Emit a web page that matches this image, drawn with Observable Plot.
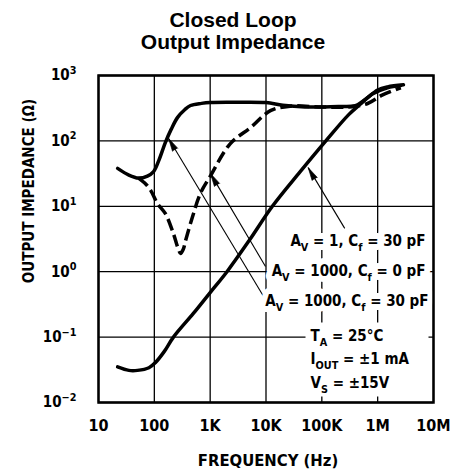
<!DOCTYPE html>
<html><head><meta charset="utf-8">
<script src="https://cdn.jsdelivr.net/npm/d3@7"></script>
<script src="https://cdn.jsdelivr.net/npm/@observablehq/plot@0.6"></script>
<style>body{margin:0;background:#fff}</style>
</head><body><div id="chart"></div>
<script>
// Axis ticks and labels
const xTicks = [10, 100, 1e3, 1e4, 1e5, 1e6, 1e7];
const xTickLabels = ["10", "100", "1K", "10K", "100K", "1M", "10M"];
const yTicks = [0.01, 0.1, 1, 10, 100, 1000];
const yTickLabels = ["10^{−2}", "10^{−1}", "10^{0}", "10^{1}", "10^{2}", "10^{3}"];

// A_V = 1000, C_f = 30 pF (solid)
const solidFreq = [22, 35, 52, 75, 97, 120, 158, 200, 261, 350, 445, 700, 1000, 3000, 10000, 20000, 50000, 200000, 400000, 600000, 1000000, 1500000, 2900000];
const solidZ    = [38, 30, 27, 29, 34, 50, 95, 150, 229, 300, 348, 375, 387, 390, 385, 350, 330, 335, 345, 430, 600, 670, 720];

// A_V = 1000, C_f = 0 pF (dashed)
const dashedFreq = [52, 70, 86, 114, 158, 220, 270, 295, 330, 363, 480, 670, 1020, 2300, 5300, 12000, 27000, 100000, 300000, 660000, 1200000, 2600000];
const dashedZ    = [27, 22, 17.5, 11, 7.7, 3.8, 2.2, 1.9, 2.2, 3.0, 6.8, 15.8, 29.5, 91, 160, 290, 340, 330, 330, 373, 500, 650];

// A_V = 1, C_f = 30 pF (solid, rising)
const av1Freq = [22, 35, 50, 80, 105, 150, 220, 500, 1000, 2000, 5000, 13000, 40000, 118000, 300000, 500000, 800000, 1500000, 2600000];
const av1Z    = [0.035, 0.031, 0.031, 0.034, 0.041, 0.06, 0.1, 0.23, 0.48, 1.0, 3.0, 10, 33, 100, 250, 370, 520, 650, 700];

// Leader lines: tip on curve, tail at label
const leaderTipF  = [180, 1015, 57000];
const leaderTipZ  = [109, 31.6, 39];
const leaderTailF = [9060, 9800, 257000];
const leaderTailZ = [0.418, 1.2, 4.6];

const labels = ["A_{V} = 1, C_{f} = 30 pF", "A_{V} = 1000, C_{f} = 0 pF", "A_{V} = 1000, C_{f} = 30 pF"];
const conditions = ["T_{A} = 25°C", "I_{OUT} = ±1 mA", "V_{S} = ±15V"];

const toRows = (F, Z) => F.map((f, i) => ({f, z: Z[i]}));
const solid = toRows(solidFreq, solidZ);
const dashed = toRows(dashedFreq, dashedZ);
const av1 = toRows(av1Freq, av1Z);
const leaders = leaderTipF.map((f, i) => ({tf: f, tz: leaderTipZ[i], lf: leaderTailF[i], lz: leaderTailZ[i]}));

const narrow = "'Liberation Sans Narrow', 'DejaVu Sans Condensed', sans-serif";
const labelPos = [{dx: -8, dy: 166}, {dx: -8, dy: 196}, {dx: -5, dy: 226}];
const condPos = [261, 284, 308];
const labelOpts = (i) => ({frameAnchor: "top-right", textAnchor: "end", lineAnchor: "middle", dx: labelPos[i].dx, dy: labelPos[i].dy, fontSize: 15});

const chart = Plot.plot({
  width: 457, height: 470,
  marginLeft: 98, marginRight: 24, marginTop: 75, marginBottom: 68,
  x: {type: "log", domain: [10, 1e7], axis: null},
  y: {type: "log", domain: [0.01, 1000], axis: null},
  style: {fontFamily: narrow, fontWeight: "bold", color: "black", background: "white"},
  marks: [
    Plot.ruleX(xTicks, {stroke: "black", strokeWidth: 1.3}),
    Plot.ruleY(yTicks, {stroke: "black", strokeWidth: 1.3}),
    Plot.frame({fill: "white", stroke: null, insetLeft: 207, insetRight: 5, insetTop: 247, insetBottom: 6}),
    Plot.line(dashed, {x: "f", y: "z", stroke: "black", strokeWidth: 3.5, strokeDasharray: "12,5", strokeLinecap: "butt", curve: "catmull-rom"}),
    Plot.line(solid, {x: "f", y: "z", stroke: "black", strokeWidth: 3.5, curve: "catmull-rom"}),
    Plot.line(av1, {x: "f", y: "z", stroke: "black", strokeWidth: 3.5, curve: "catmull-rom"}),
    Plot.link(leaders, {x1: "lf", y1: "lz", x2: "tf", y2: "tz", stroke: "black", strokeWidth: 1.1}),
    Plot.vector(leaders, {x: "tf", y: "tz", rotate: -30, length: 13, r: 3, shape: "spike", anchor: "end", fill: "black", stroke: "black", strokeWidth: 0.6}),
    // white halos behind the curve labels, then the labels
    ...labels.map((t, i) => Plot.text([t], {...labelOpts(i), fill: "white", stroke: "white", strokeWidth: 12})),
    ...labels.map((t, i) => Plot.text([t], {...labelOpts(i), fill: "black"})),
    ...conditions.map((t, i) => Plot.text([t], {frameAnchor: "top-left", textAnchor: "start", lineAnchor: "middle", dx: 212, dy: condPos[i], fontSize: 15, fill: "black"})),
    Plot.frame({stroke: "black", strokeWidth: 2.5}),
    Plot.axisX(xTicks, {tickFormat: d => xTickLabels[xTicks.indexOf(d)], tickSize: 0, tickPadding: 17, fontSize: 16, label: null}),
    Plot.axisY(yTicks, {tickFormat: d => yTickLabels[yTicks.indexOf(d)], tickSize: 0, tickPadding: 22, fontSize: 15, label: null}),
    Plot.text(["Closed Loop"], {frameAnchor: "top", lineAnchor: "middle", dx: -33, dy: -55.5, fontSize: 21, fontFamily: "'Liberation Sans', Arial, sans-serif"}),
    Plot.text(["Output Impedance"], {frameAnchor: "top", lineAnchor: "middle", dx: -33, dy: -33, fontSize: 21, fontFamily: "'Liberation Sans', Arial, sans-serif"}),
    Plot.text(["OUTPUT IMPEDANCE (Ω)"], {frameAnchor: "left", textAnchor: "middle", lineAnchor: "middle", rotate: -90, dx: -69, dy: -48, fontSize: 15}),
    Plot.text(["FREQUENCY (Hz)"], {frameAnchor: "bottom", lineAnchor: "middle", dx: 2, dy: 58, fontSize: 16.5})
  ]
});
document.getElementById("chart").appendChild(chart);

// Render _{...} and ^{...} as real sub/superscript tspans
function applyScripts(svg) {
  const els = Array.from(svg.querySelectorAll("text, tspan"));
  for (const el of els) {
    if (el.childNodes.length !== 1 || el.firstChild.nodeType !== 3) continue;
    const s = el.textContent;
    if (!/[_^]\{/.test(s)) continue;
    const fs = parseFloat(getComputedStyle(el).fontSize) || 16;
    el.textContent = "";
    const re = /([_^])\{([^}]*)\}/g;
    let last = 0, m, pending = 0;
    const ns = "http://www.w3.org/2000/svg";
    const add = (txt, kind) => {
      if (!txt) return;
      const t = document.createElementNS(ns, "tspan");
      t.textContent = txt;
      if (kind) {
        const off = kind === "^" ? -0.42 * fs : 0.28 * fs;
        t.setAttribute("dy", off + pending);
        t.setAttribute("font-size", (0.72 * fs) + "px");
        pending = -off;
      } else {
        if (pending) t.setAttribute("dy", pending);
        pending = 0;
      }
      el.appendChild(t);
    };
    while ((m = re.exec(s))) {
      add(s.slice(last, m.index), null);
      add(m[2], m[1]);
      last = re.lastIndex;
    }
    add(s.slice(last), null);
  }
}
applyScripts(chart);
</script>
</body></html>
